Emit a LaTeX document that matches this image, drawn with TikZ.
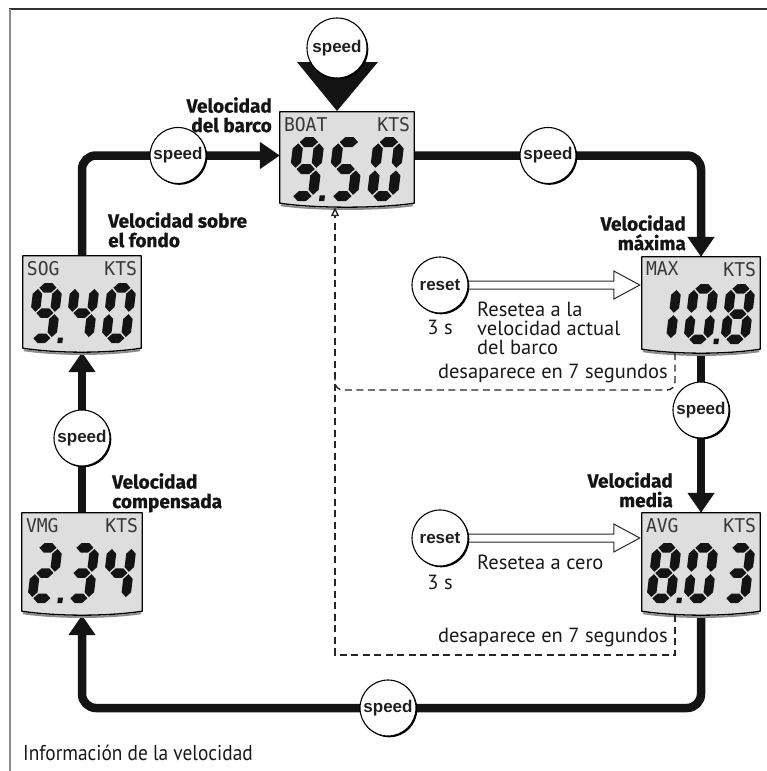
\documentclass[tikz,border=0pt]{standalone}
\usepackage{fontspec}
\setmainfont{Liberation Sans}
\newfontfamily\hfont[BoldFeatures={FakeBold=0.8}]{Fira Sans}
\newfontfamily\rfont{PT Sans}
\newfontfamily\cfont[FakeStretch=0.9]{PT Sans}
\newfontfamily\lfont[FakeStretch=0.95]{DejaVu Sans Mono}
\usetikzlibrary{arrows.meta,calc,backgrounds,shadows}

\tikzset{
 loopline/.style={line width=8.5pt, draw=black!92, rounded corners=14pt},
 looparr/.style={loopline, -{Triangle[length=20pt,width=26pt]}},
 btn/.style={circle, draw=black, line width=1.1pt, fill=white, minimum size=56pt, inner sep=0pt,
   font=\fontsize{17}{17}\selectfont\bfseries, text=black!88,
   drop shadow={shadow xshift=1.3pt,shadow yshift=-1.3pt,fill=black,opacity=1}},
 bigbtn/.style={btn, minimum size=60pt},
 lcdnode/.style={rectangle, draw=none, inner sep=0pt},
 lcdframe/.style={draw=black, line width=1.3pt, fill=black!13, line join=round},
 lcdshade/.style={draw=black!45, line width=2pt},
 lcdlab/.style={inner sep=0pt, font=\lfont\fontsize{19}{19}\selectfont, text=black!78},
 seg/.style={fill=black!92},
 head/.style={inner sep=0pt, font=\hfont\bfseries\fontsize{19}{19.5}\selectfont, text=black!92},
 body/.style={inner sep=0pt, font=\rfont\fontsize{20.5}{19}\selectfont, text=black!90},
 hollow/.style={draw=black!85, line width=1pt, line join=miter},
 dashedline/.style={draw=black!85, line width=1.4pt, dash pattern=on 7pt off 4.5pt},
}

\newcommand\segA{\fill[seg] (5.95,4.75)--(10.7,0)--(18.3,0)--(23.05,4.75)--(18.3,9.5)--(10.7,9.5)--cycle;}
\newcommand\segG{\fill[seg] (5.95,30)--(10.7,25.25)--(18.3,25.25)--(23.05,30)--(18.3,34.75)--(10.7,34.75)--cycle;}
\newcommand\segD{\fill[seg] (5.95,55.25)--(10.7,50.5)--(18.3,50.5)--(23.05,55.25)--(18.3,60)--(10.7,60)--cycle;}
\newcommand\segF{\fill[seg] (4.75,5.95)--(9.5,10.7)--(9.5,24.05)--(4.75,28.8)--(0,24.05)--(0,10.7)--cycle;}
\newcommand\segB{\fill[seg] (24.25,5.95)--(29,10.7)--(29,24.05)--(24.25,28.8)--(19.5,24.05)--(19.5,10.7)--cycle;}
\newcommand\segE{\fill[seg] (4.75,31.2)--(9.5,35.95)--(9.5,49.3)--(4.75,54.05)--(0,49.3)--(0,35.95)--cycle;}
\newcommand\segC{\fill[seg] (24.25,31.2)--(29,35.95)--(29,49.3)--(24.25,54.05)--(19.5,49.3)--(19.5,35.95)--cycle;}
\expandafter\newcommand\csname dg0\endcsname{\segA\segB\segC\segD\segE\segF}
\expandafter\newcommand\csname dg1\endcsname{\segB\segC}
\expandafter\newcommand\csname dg2\endcsname{\segA\segB\segG\segE\segD}
\expandafter\newcommand\csname dg3\endcsname{\segA\segB\segG\segC\segD}
\expandafter\newcommand\csname dg4\endcsname{\segF\segG\segB\segC}
\expandafter\newcommand\csname dg5\endcsname{\segA\segF\segG\segC\segD}
\expandafter\newcommand\csname dg8\endcsname{\segA\segB\segC\segD\segE\segF\segG}
\expandafter\newcommand\csname dg9\endcsname{\segA\segB\segC\segD\segF\segG}
\newcommand\lcddigit[4]{\begin{scope}[shift={(#1,#2)},xslant=0.12,scale=#3]\csname dg#4\endcsname\end{scope}}
\newcommand\lcddot[3]{\begin{scope}[shift={(#1,#2)},xslant=0.12,scale=#3]\fill[seg] (30.5,54.5)--(35.5,54.5)--(35.5,60)--(30.5,60)--cycle;\end{scope}}

\newcommand\lcd[7]{%
 \node[lcdnode, minimum width=#4pt, minimum height=#5pt] (#1) at (#2,#3) {};
 \draw[lcdshade] ($(#1.south west)+(1,-2)$) .. controls ($(#1.south west)+(35,3)$) and ($(#1.south east)+(-35,3)$) .. ($(#1.south east)+(-1,-2)$);
 \draw[lcdframe] (#1.north west) -- (#1.north east) -- ($(#1.south east)+(0,-4)$) .. controls ($(#1.south east)+(-35,1.3)$) and ($(#1.south west)+(35,1.3)$) .. ($(#1.south west)+(0,-4)$) -- cycle;
 \node[lcdlab, anchor=north west] (#1-l) at ($(#1.north west)+(4,5)$) {#6};
 \node[lcdlab, anchor=north east] (#1-r) at ($(#1.north east)+(-4,5)$) {#7};
}

\begin{document}
\begin{tikzpicture}[x=1pt,y=-1pt]
\useasboundingbox (0,0) rectangle (767,771);

% frame
\draw[black!80, line width=1.6pt] (9,9) -- (767,9);
\draw[black!45, line width=2pt] (10,8.5) -- (10,771);

% displays
\lcd{boat}{347}{159.5}{134}{95}{BOAT}{KTS}
\lcd{sog}{82}{304}{118}{96}{SOG}{KTS}
\lcd{max}{701}{305}{118}{96}{MAX}{KTS}
\lcd{avg}{701}{564}{118}{102}{AVG}{KTS}
\lcd{vmg}{82}{564}{120}{102}{VMG}{KTS}

\lcddigit{294}{137}{1.07}{9}\lcddot{294}{137}{1.07}\lcddigit{334}{137}{1.07}{5}\lcddigit{374}{137}{1.07}{0}
\lcddigit{34}{283}{1}{9}\lcddot{34}{283}{1}\lcddigit{71}{283}{1}{4}\lcddigit{108}{283}{1}{0}
\lcddigit{653}{284}{1}{1}\lcddigit{690}{284}{1}{0}\lcddot{690}{284}{1}\lcddigit{727}{284}{1}{8}
\lcddigit{653}{543}{1}{8}\lcddot{653}{543}{1}\lcddigit{690}{543}{1}{0}\lcddigit{727}{543}{1}{3}
\lcddigit{34}{543}{1}{2}\lcddot{34}{543}{1}\lcddigit{71}{543}{1}{3}\lcddigit{108}{543}{1}{4}

% buttons
\node[bigbtn] (top) at (337,48) {speed};
\node[btn] (s1) at (178,155.5) {speed};
\node[btn] (s2) at (548,155.5) {speed};
\node[btn] (s3) at (701,410) {speed};
\node[btn] (s4) at (388,708) {speed};
\node[btn] (s5) at (82,438) {speed};
\node[btn] (r1) at (440,285) {reset};
\node[btn] (r2) at (440,538) {reset};

% loop
\begin{scope}[on background layer]
\draw[looparr] (sog.north) |- ([yshift=4pt]boat.west);
\draw[looparr] ([yshift=4pt]boat.east) -| (max.north);
\draw[looparr] (max.south) -- (avg.north);
\draw[looparr] (avg.south) |- (s4.center) -| (vmg.south);
\draw[looparr] (vmg.north) -- (sog.south);
\fill[black!92] ($(top)+(-40,14)$) -- ($(top)+(41,14)$) -- ($(top)+(0,63)$) -- cycle;
\end{scope}

% hollow arrows
\coordinate (h1) at (r1.east -| max.west);
\coordinate (h2) at (r2.east -| avg.west);
\draw[hollow] ($(r1.east)+(0,-4)$) -- ($(h1)+(-28,-4)$) -- ($(h1)+(-28,-14)$) -- ($(h1)+(-2,0)$) -- ($(h1)+(-28,14)$) -- ($(h1)+(-28,4)$) -- ($(r1.east)+(0,4)$);
\draw[hollow] ($(r2.east)+(0,-4)$) -- ($(h2)+(-28,-4)$) -- ($(h2)+(-28,-14)$) -- ($(h2)+(-2,0)$) -- ($(h2)+(-28,14)$) -- ($(h2)+(-28,4)$) -- ($(r2.east)+(0,4)$);

% dashed returns
\coordinate (dA) at (675,390);
\coordinate (dB) at (335,390);
\coordinate (dC) at (675,655);
\coordinate (dD) at (335,655);
\draw[dashedline, rounded corners=8pt] (dA |- max.south) -- (dA) -- (dB) -- ++(0,-16);
\draw[dashedline, -{Triangle[open,length=9pt,width=8pt]}] (dC |- avg.south) -- (dC) -- (dD) -- (dD |- boat.south);

% headings
\node[head, align=right, anchor=north east] (hboat) at (272,97) {Velocidad\\del barco};
\node[head, align=left, anchor=north west] (hsog) at (108,212) {Velocidad sobre\\el fondo};
\node[head, align=right, anchor=north east] (hmax) at (686,215) {Velocidad\\máxima};
\node[head, align=right, anchor=north east] (havg) at (673,472) {Velocidad\\media};
\node[head, align=left, anchor=north west] (hvmg) at (112,473) {Velocidad\\compensada};

% body texts
\node[body, align=left, anchor=north west] (txt1) at (477,302) {Resetea a la\\velocidad actual\\del barco};
\node[body, anchor=base] (tt1) at (440,334) {3 s};
\node[body, anchor=base east] (ds1) at (668,378) {desaparece en 7 segundos};
\node[body, anchor=base west] (txt2) at (477,569) {Resetea a cero};
\node[body, anchor=base] (tt2) at (440,589) {3 s};
\node[body, anchor=base east] (ds2) at (668,642) {desaparece en 7 segundos};
\node[body, anchor=base west, font=\cfont\fontsize{21.5}{21.5}\selectfont] (cap) at (23,760) {Información de la velocidad};
\end{tikzpicture}
\end{document}
